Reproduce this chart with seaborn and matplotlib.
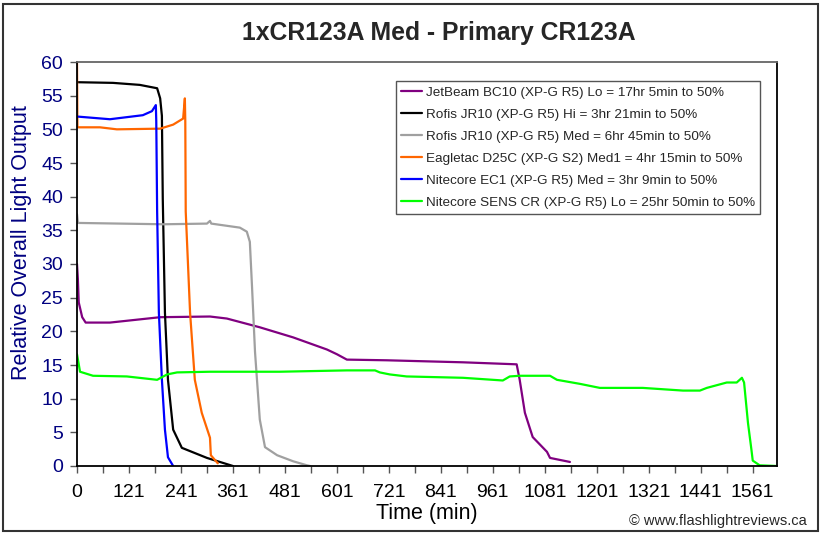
import matplotlib
matplotlib.use("Agg")
import matplotlib.pyplot as plt
import matplotlib.patches as mpatches
import seaborn as sns
import pandas as pd

# ---------------- data ----------------
jetbeam_t = [0, 2, 4, 12, 20, 76, 192, 307, 346, 422, 499, 577, 600, 623, 715, 891, 1015, 1022, 1034, 1052, 1085, 1092, 1138]
jetbeam_v = [30.0, 27.8, 24.3, 22.1, 21.3, 21.3, 22.1, 22.2, 21.9, 20.6, 19.1, 17.3, 16.6, 15.8, 15.7, 15.4, 15.1, 12.8, 7.9, 4.3, 2.1, 1.2, 0.6]

rofis_hi_t = [0, 83, 145, 185, 192, 196, 198, 203, 210, 222, 242, 300, 360]
rofis_hi_v = [57.0, 56.9, 56.6, 56.1, 54.6, 52.0, 39.7, 22.8, 12.8, 5.4, 2.7, 1.2, 0.0]

rofis_med_t = [0, 2, 100, 200, 300, 307, 310, 376, 392, 399, 404, 411, 422, 434, 462, 499, 531, 538]
rofis_med_v = [37.4, 36.1, 36.0, 35.9, 36.0, 36.4, 36.0, 35.4, 34.8, 33.3, 26.7, 16.9, 6.9, 2.8, 1.6, 0.7, 0.1, 0.0]

eagletac_t = [0, 1, 53, 92, 192, 222, 245, 249, 250, 251, 261, 272, 288, 307, 309, 325]
eagletac_v = [60.0, 50.3, 50.3, 50.0, 50.1, 50.7, 51.6, 54.6, 51.2, 37.8, 22.8, 12.8, 7.9, 4.2, 1.6, 0.4]

ec1_t = [0, 76, 152, 173, 182, 183, 185, 189, 196, 203, 210, 222]
ec1_v = [51.9, 51.5, 52.1, 52.7, 53.6, 51.2, 37.8, 22.8, 12.8, 5.4, 1.3, 0.0]

sens_t = [0, 7, 37, 115, 185, 208, 231, 307, 468, 623, 688, 699, 722, 761, 891, 983, 999, 1022, 1092, 1108,
          1161, 1207, 1306, 1399, 1438, 1454, 1500, 1523, 1535, 1540, 1549, 1557, 1560, 1576, 1615]
sens_v = [16.6, 14.0, 13.4, 13.3, 12.8, 13.6, 13.9, 14.0, 14.0, 14.2, 14.2, 13.9, 13.6, 13.3, 13.1, 12.7, 13.3, 13.4, 13.4, 12.8,
          12.2, 11.6, 11.6, 11.2, 11.2, 11.6, 12.4, 12.4, 13.1, 12.4, 6.4, 2.4, 0.8, 0.1, 0.0]

series_names = [
    "JetBeam BC10 (XP-G R5) Lo = 17hr 5min to 50%",
    "Rofis JR10 (XP-G R5) Hi = 3hr 21min to 50%",
    "Rofis JR10 (XP-G R5) Med = 6hr 45min to 50%",
    "Eagletac D25C (XP-G S2) Med1 = 4hr 15min to 50%",
    "Nitecore EC1 (XP-G R5) Med = 3hr 9min to 50%",
    "Nitecore SENS CR (XP-G R5) Lo = 25hr 50min to 50%",
]
series_colors = ["#800080", "#000000", "#a0a0a0", "#ff6600", "#0000ff", "#00ff00"]

x_tick_pos = [0, 120, 240, 360, 480, 600, 720, 840, 960, 1080, 1200, 1320, 1440, 1560]
x_tick_labels = ["0", "121", "241", "361", "481", "601", "721", "841", "961", "1081", "1201", "1321", "1441", "1561"]
y_ticks = list(range(0, 61, 5))

# ---------------- build table ----------------
all_t = [jetbeam_t, rofis_hi_t, rofis_med_t, eagletac_t, ec1_t, sens_t]
all_v = [jetbeam_v, rofis_hi_v, rofis_med_v, eagletac_v, ec1_v, sens_v]
frames = []
for name, tt, vv in zip(series_names, all_t, all_v):
    frames.append(pd.DataFrame({"t": tt, "v": vv, "series": name}))
df = pd.concat(frames, ignore_index=True)
palette = dict(zip(series_names, series_colors))

# ---------------- style ----------------
sns.set_style("white")
plt.rcParams["font.family"] = ["Liberation Sans", "DejaVu Sans"]

fig = plt.figure(figsize=(8.22, 5.35), dpi=100)
fig.patch.set_facecolor("white")
ax = fig.add_axes([77 / 822, 69 / 535, 700 / 822, 404 / 535])

sns.lineplot(data=df, x="t", y="v", hue="series", hue_order=series_names,
             palette=palette, estimator=None, sort=False, linewidth=1.6, ax=ax)

ax.set_xlim(0, 1616)
ax.set_ylim(0, 60)
ax.set_xticks(x_tick_pos)
ax.set_xticklabels(x_tick_labels)
ax.set_xticks([p + 60 for p in x_tick_pos[:-1]], minor=True)
ax.set_yticks(y_ticks)

ax.tick_params(axis="x", which="both", direction="out", length=5, width=1,
               color="#555555", pad=8, labelsize=14, labelcolor="black", bottom=True)
ax.tick_params(axis="y", direction="out", length=5, width=1,
               color="#555555", pad=5, labelsize=14, labelcolor="#000080", left=True)

for side in ["left", "bottom", "right"]:
    ax.spines[side].set_color("black")
    ax.spines[side].set_linewidth(1.3)
ax.spines["top"].set_color("#666666")
ax.spines["top"].set_linewidth(1.3)

ax.set_xlabel("Time (min)", fontsize=15.5, color="black")
ax.set_ylabel("Relative Overall Light Output", fontsize=15.5, color="#000080")
ax.xaxis.set_label_coords(0.5, -0.118)
ax.xaxis.label.set_va("center")
ax.yaxis.set_label_coords(-0.079, 0.552)
ax.yaxis.label.set_va("center")

handles, labels = ax.get_legend_handles_labels()
leg = ax.legend(handles, labels, loc="upper left", bbox_to_anchor=(0.456, 0.953),
                fontsize=9.7, frameon=True, fancybox=False, shadow=False,
                framealpha=1, edgecolor="#555555", handlelength=1.55,
                handletextpad=0.3, labelspacing=0.71, borderpad=0.38,
                borderaxespad=0)
leg.get_frame().set_linewidth(1.0)
for line in leg.get_lines():
    line.set_linewidth(1.6)

fig.text(439 / 822, 1 - 33 / 535, "1xCR123A Med - Primary CR123A",
         ha="center", va="center", fontsize=17.8, fontweight="bold")
fig.text(807 / 822, 1 - 521 / 535, "\u00a9 www.flashlightreviews.ca",
         ha="right", va="center", fontsize=10.5)

fig.patches.append(mpatches.Rectangle((3 / 822, 4 / 535), 815 / 822, 527 / 535,
                                      transform=fig.transFigure, fill=False,
                                      edgecolor="#333333", linewidth=1.5))

fig.savefig("out.png", dpi=100, facecolor="white")
